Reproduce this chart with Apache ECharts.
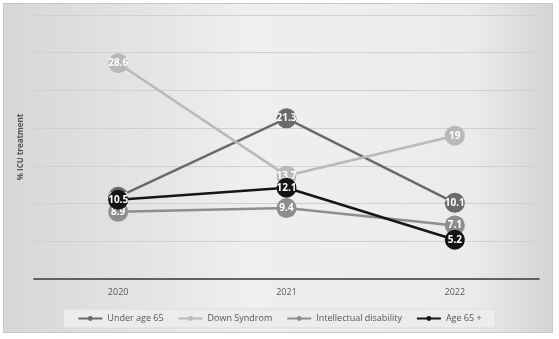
<!DOCTYPE html>
<html><head><meta charset="utf-8">
<script src="https://cdn.jsdelivr.net/npm/echarts@6/dist/echarts.min.js"></script>
<style>html,body{margin:0;padding:0;background:#fff}#c{width:559px;height:339px}</style>
</head><body><div id="c"></div>
<script>
const categories = ['2020', '2021', '2022'];
const underAge65 = [10.9, 21.3, 10.1];
const downSyndrom = [28.6, 13.7, 19];
const intellectualDisability = [8.9, 9.4, 7.1];
const age65Plus = [10.5, 12.1, 5.2];
const seriesNames = ['Under age 65', 'Down Syndrom', 'Intellectual disability', 'Age 65 +'];
const seriesColors = ['#6a6a6a', '#b9b9b9', '#8e8e8e', '#161616'];
const seriesData = [underAge65, downSyndrom, intellectualDisability, age65Plus];

const chart = echarts.init(document.getElementById('c'), null, {renderer: 'canvas'});
chart.setOption({
  animation: false,
  backgroundColor: '#ffffff',
  graphic: [{
    type: 'rect', z: -10, silent: true,
    shape: {x: 3.5, y: 3.5, width: 549, height: 329},
    style: {
      fill: new echarts.graphic.LinearGradient(0, 0, 1, 0, [
        {offset: 0, color: '#d6d6d6'},
        {offset: 0.45, color: '#efefef'},
        {offset: 0.85, color: '#ebebeb'},
        {offset: 1, color: '#d4d4d4'}
      ]),
      stroke: '#c8c8c8', lineWidth: 1
    }
  }],
  grid: {left: 34, right: 20, top: 15, bottom: 60},
  legend: {
    bottom: 11, left: 'center',
    data: seriesNames,
    itemWidth: 24, itemHeight: 6, itemGap: 14,
    padding: [5, 14],
    backgroundColor: '#ececec',
    borderColor: '#dcdcdc', borderWidth: 1,
    textStyle: {color: '#555555', fontSize: 9, fontFamily: 'Open Sans'}
  },
  xAxis: {
    type: 'category', data: categories, boundaryGap: true,
    axisLine: {lineStyle: {color: '#3a3a3a', width: 1.5}},
    axisTick: {show: false},
    axisLabel: {color: '#555555', fontSize: 9, fontFamily: 'Open Sans', margin: 9}
  },
  yAxis: {
    type: 'value', min: 0, max: 35, interval: 5,
    name: '% ICU treatment', nameLocation: 'middle', nameRotate: 90, nameGap: 9,
    nameTextStyle: {color: '#555555', fontSize: 8, fontWeight: 'bold', fontFamily: 'Open Sans'},
    axisLabel: {show: false},
    axisLine: {show: false}, axisTick: {show: false},
    splitLine: {lineStyle: {color: '#d0d0d0', width: 1}}
  },
  series: seriesData.map((d, i) => ({
    name: seriesNames[i], type: 'line', data: d,
    symbol: 'circle', symbolSize: 20,
    z: 2 + i,
    itemStyle: {color: seriesColors[i]},
    lineStyle: {color: seriesColors[i], width: 2.5},
    label: {show: true, position: 'inside', color: '#ffffff', fontSize: 10, fontWeight: 'bold', fontFamily: 'Open Sans'}
  }))
});
</script></body></html>
